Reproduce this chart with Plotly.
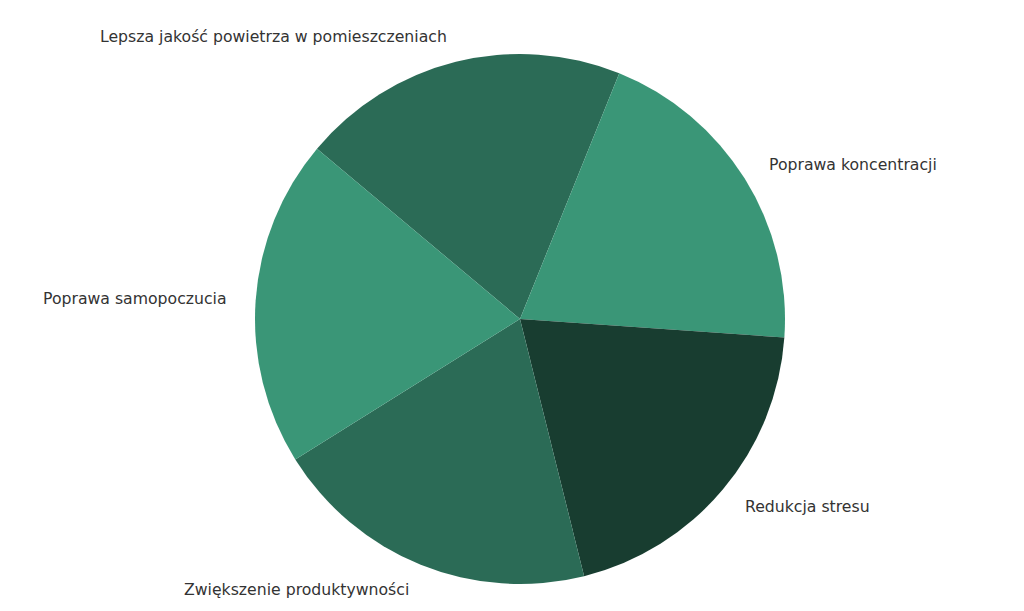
import math

import plotly.graph_objects as go

# slices in clockwise order, starting from the upper-left edge
labels = [
    "Lepsza jakość powietrza w pomieszczeniach",
    "Poprawa koncentracji",
    "Redukcja stresu",
    "Zwiększenie produktywności",
    "Poprawa samopoczucia",
]
values = [20, 20, 20, 20, 20]
colors = ["#2b6b56", "#3a9677", "#183d30", "#2b6b56", "#3a9677"]

W, H = 1024, 611
# pie centre and radius in figure pixels (page body adds an 8px offset)
CX, CY, R = 512, 311, 265
START_ANGLE = 140  # degrees, counterclockwise from 3 o'clock


def label_annotations():
    # labels at 1.1 x radius on each slice's mid angle
    total = sum(values)
    notes = []
    acc = 0
    for lab, val in zip(labels, values):
        mid = math.radians(START_ANGLE - 360 * (acc + val / 2) / total)
        acc += val
        x = CX + 1.1 * R * math.cos(mid)
        y = (H - CY) + 1.1 * R * math.sin(mid)
        notes.append(dict(
            x=x / W, y=y / H, xref="paper", yref="paper",
            text=lab, showarrow=False,
            xanchor="left" if math.cos(mid) > 0 else "right",
            yanchor="middle",
            font=dict(family="DejaVu Sans", size=15.7, color="#333333"),
        ))
    return notes


fig = go.Figure(go.Pie(
    labels=labels,
    values=values,
    marker=dict(colors=colors, line=dict(width=0)),
    sort=False,
    direction="clockwise",
    rotation=-(START_ANGLE - 90),
    textinfo="none",
    hoverinfo="label+percent",
    domain=dict(
        x=[(CX - R) / W, (CX + R) / W],
        y=[(H - CY - R) / H, (H - CY + R) / H],
    ),
))

fig.update_layout(
    width=W, height=H,
    margin=dict(l=0, r=0, t=0, b=0),
    showlegend=False,
    paper_bgcolor="white",
    annotations=label_annotations(),
)

fig.write_html("out.html")
